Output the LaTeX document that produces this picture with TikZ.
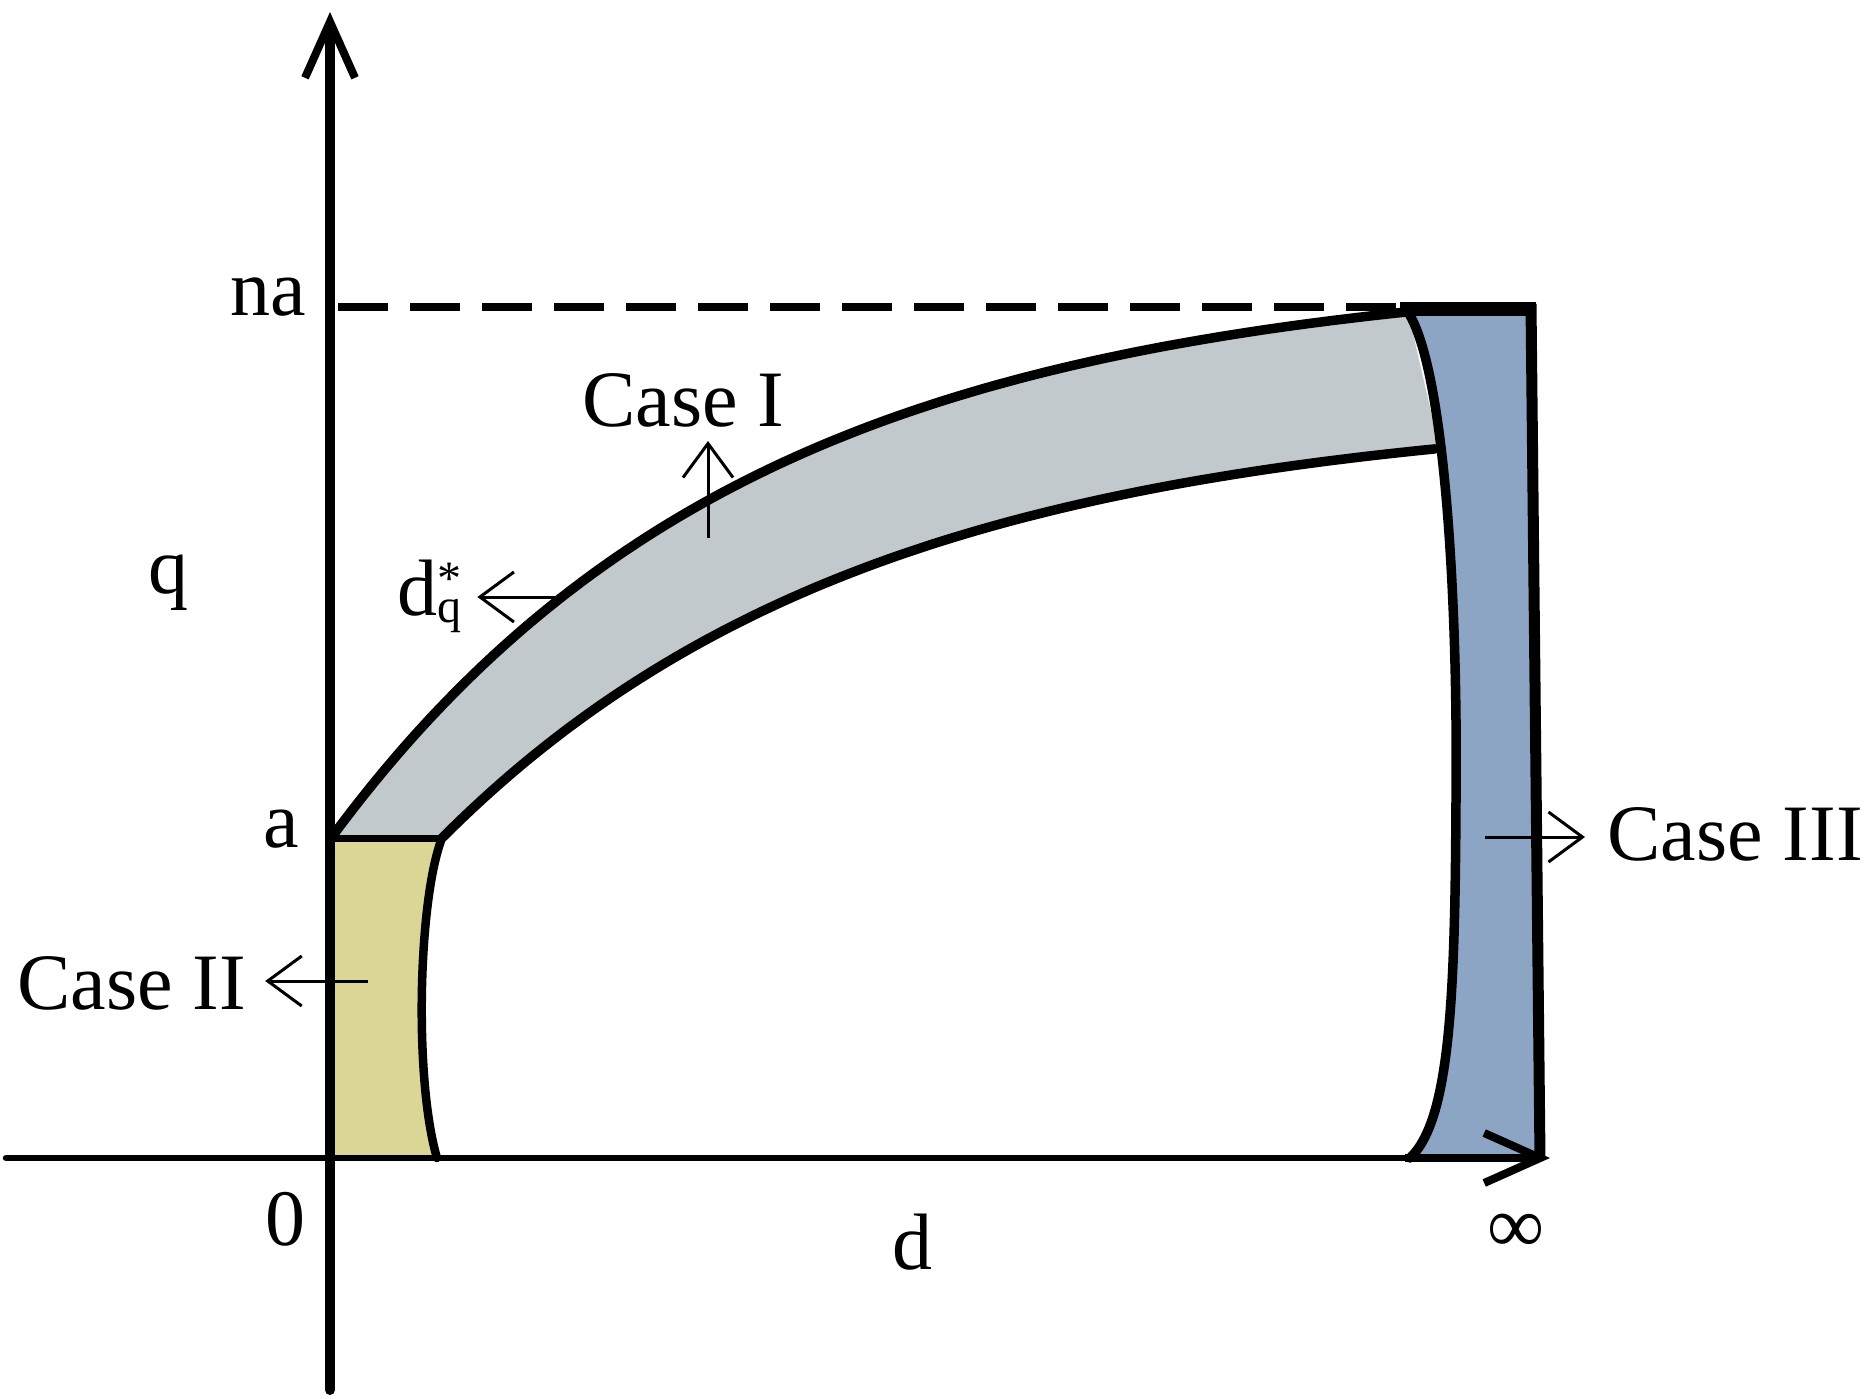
\documentclass[tikz,border=0pt]{standalone}
\usepackage{fontspec}
\setmainfont{Liberation Serif}
\usetikzlibrary{arrows.meta}
\definecolor{bandgrey}{RGB}{194,201,204}
\definecolor{caseyellow}{RGB}{220,214,150}
\definecolor{caseblue}{RGB}{141,165,196}
\begin{document}
\begin{tikzpicture}[x=1pt,y=-1pt,
  lbl/.style={inner sep=0pt, font=\fontsize{80}{96}\selectfont},
  axisline/.style={line cap=round, -{Straight Barb[length=56pt,width=50pt,line width=8pt]}},
  smallarr/.style={line width=3pt, -{Straight Barb[length=34pt,width=50pt]}},
  bound/.style={line width=9.5pt, line join=round, line cap=round}]
\useasboundingbox (0,0) rectangle (1875,1399);

% fills
\fill[bandgrey] plot[domain=331:1408,samples=100] (\x,{838-570*(1-exp(-(\x-331)/420))})
  -- (1440,451) -- plot[domain=1435:442,samples=100] (\x,{838-432*(1-exp(-(\x-442)/430))}) -- cycle;
\fill[caseyellow] (331,838) -- (442,838) .. controls (418,900) and (414,1080) .. (437,1158) -- (331,1158) -- cycle;
\fill[caseblue] (1408,312) .. controls (1445,370) and (1458,600) .. (1456,800)
  .. controls (1455,1000) and (1450,1120) .. (1410,1158) -- (1540,1158) -- (1531,309) -- cycle;

% dashed na level
\draw[line width=8pt, dash pattern=on 50pt off 22pt] (338,307) -- (1405,307);

% boundaries
\draw[bound] plot[domain=331:1408,samples=100] (\x,{838-570*(1-exp(-(\x-331)/420))});
\draw[bound] plot[domain=442:1435,samples=100] (\x,{838-432*(1-exp(-(\x-442)/430))});
\draw[line width=7pt] (331,838) -- (442,838);
\draw[bound, line width=8.5pt] (442,838) .. controls (418,900) and (414,1080) .. (437,1158);
\draw[bound] (1408,312) .. controls (1445,370) and (1458,600) .. (1456,800)
  .. controls (1455,1000) and (1450,1120) .. (1410,1158);
\draw[line width=14pt] (1400,309) -- (1536,309);
\draw[line width=11pt] (1531,304) -- (1540,1158);
\draw[line width=8pt] (1405,1158) -- (1540,1158);

% axes
\coordinate (xl) at (6,1158);
\coordinate (xr) at (1550,1158);
\coordinate (yb) at (330,1390);
\coordinate (yt) at (330,12);
\draw[axisline, line width=6.5pt] (xl) -- (xr);
\draw[axisline, line width=10pt] (yb) -- (yt);

% labels
\node[lbl, anchor=base] (na) at (268,315) {na};
\node[lbl, anchor=base] (q) at (168,593) {q};
\node[lbl, anchor=base] (a) at (281,847) {a};
\node[lbl, anchor=base] (zero) at (285,1245) {0};
\node[lbl, anchor=base] (d) at (912,1269) {d};
\node[lbl] (inf) at (1516,1233) {∞};
\node[lbl, anchor=base west] (case1) at (582,426) {Case I};
\node[lbl, anchor=base west] (case2) at (17,1009) {Case II};
\node[lbl, anchor=base west] (case3) at (1607,860) {Case III};
\node[lbl, anchor=base west] (dq) at (397,615) {d\rlap{\raisebox{21pt}{\fontsize{48}{48}\selectfont *}}\raisebox{-7pt}{\fontsize{48}{48}\selectfont q}};

% label arrows
\coordinate (c1s) at (708,538);
\coordinate (c2s) at (368,981);
\coordinate (c3s) at (1485,837);
\coordinate (dqs) at (562,597);
\draw[smallarr, shorten >=14pt] (c1s) -- (c1s |- case1.south);
\draw[smallarr, shorten >=19pt] (c2s) -- (c2s -| case2.east);
\draw[smallarr, shorten >=22pt] (c3s) -- (c3s -| case3.west);
\draw[smallarr, shorten >=16pt] (dqs) -- (dqs -| dq.east);
\end{tikzpicture}
\end{document}
